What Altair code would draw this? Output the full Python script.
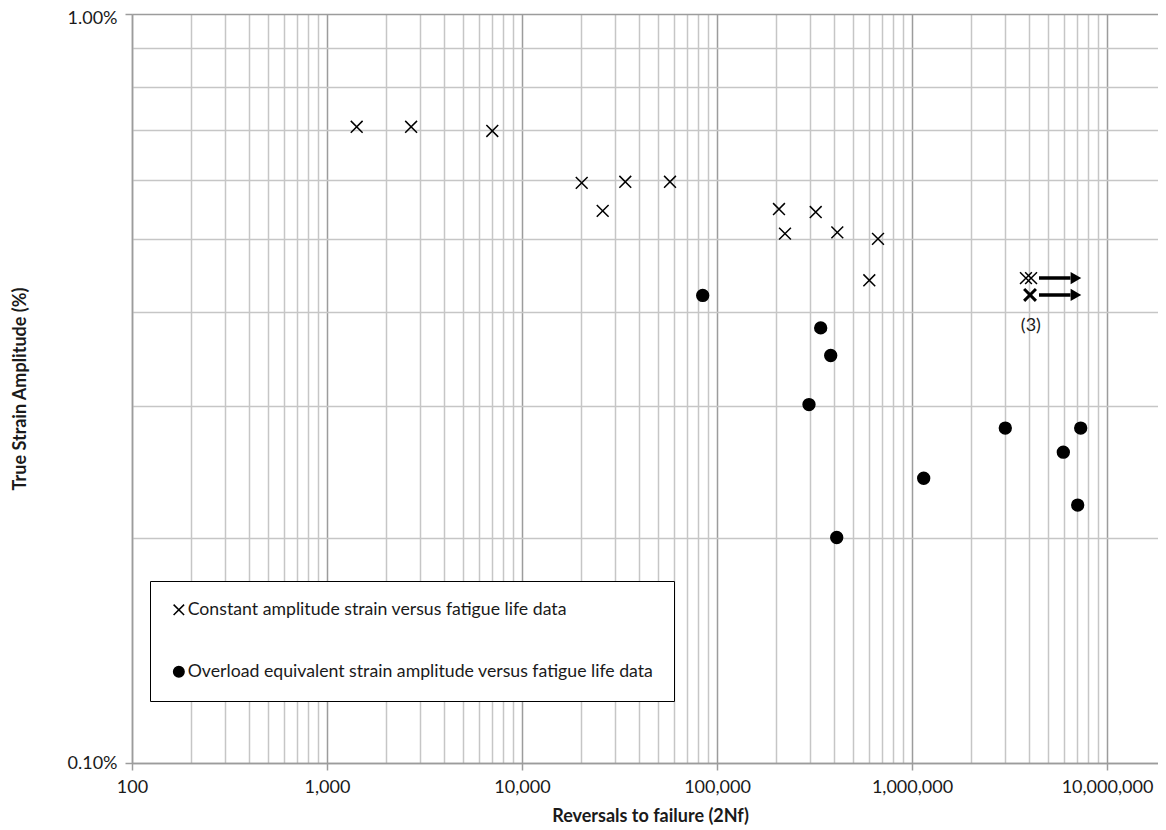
import altair as alt
import pandas as pd

# ---------------- data ----------------
SERIES_CA = "Constant amplitude strain versus fatigue life data"
SERIES_OL = "Overload equivalent strain amplitude versus fatigue life data"

# constant amplitude strain versus fatigue life (crosses)
ca_reversals = [1420, 2700, 7040, 20240, 25930, 33860, 57410,
                207900, 223200, 320800, 414000, 669300, 604000]
ca_strain = [0.707, 0.707, 0.698, 0.595, 0.546, 0.597, 0.597,
             0.549, 0.509, 0.544, 0.511, 0.501, 0.441]

# overload equivalent strain amplitude versus fatigue life (dots)
ol_reversals = [84470, 340200, 382900, 296300, 411100,
                1148000, 3009000, 7330000, 5970000, 7075000]
ol_strain = [0.421, 0.381, 0.350, 0.301, 0.200,
             0.240, 0.280, 0.280, 0.260, 0.221]

# run-out specimens (did not fail) with arrows
runout_reversals = [3840000, 4080000, 4030000]
runout_strain = [0.444, 0.444, 0.4216]
runout_weight = ["normal", "normal", "bold"]

arrow_start = [4480000, 4480000]
arrow_end = [6500000, 6500000]
arrow_tip = [6930000, 6930000]
arrow_strain = [0.444, 0.4216]

note_text = ["(3)"]
note_reversals = [4070000]
note_strain = [0.383]

# axis ticks / gridlines
x_decades = [100, 1000, 10000, 100000, 1000000, 10000000]
x_multipliers = [1, 2, 3, 4, 5, 6, 7, 8, 9]
y_grid = [0.1, 0.2, 0.3, 0.4, 0.5, 0.6, 0.7, 0.8, 0.9, 1.0]
y_major = [0.1, 1.0]

x_grid = sorted({d * m for d in x_decades[:-1] for m in x_multipliers} | {x_decades[-1]})

# ---------------- tables ----------------
points = pd.DataFrame({
    "reversals": ca_reversals + ol_reversals,
    "strain": ca_strain + ol_strain,
    "series": [SERIES_CA] * len(ca_reversals) + [SERIES_OL] * len(ol_reversals),
})
runouts = pd.DataFrame({"reversals": runout_reversals, "strain": runout_strain,
                        "weight": runout_weight})
arrows = pd.DataFrame({"reversals": arrow_start, "end": arrow_end,
                       "tip": arrow_tip, "strain": arrow_strain})
notes = pd.DataFrame({"reversals": note_reversals, "strain": note_strain, "text": note_text})

CROSS = "M-1,-1L1,1M-1,1L1,-1"
FONT = "Lato"
TXT = "#1a1a1a"
MINOR = "#c6c6c6"
MAJOR = "#9c9c9c"

decade_list = "[" + ",".join(str(v) for v in x_decades) + "]"
is_decade = f"indexof({decade_list}, datum.value) >= 0"
y_major_test = " || ".join(f"datum.value == {v}" for v in y_major)

PLOT_W = 1026
PLOT_H = 749
X_MAX = 100 * 10 ** (PLOT_W / 195.0)

x_axis = alt.Axis(
    values=x_grid,
    labelExpr=f"{is_decade} ? format(datum.value, ',') : ''",
    grid=True,
    gridColor={"condition": {"test": is_decade, "value": MAJOR}, "value": MINOR},
    gridWidth=1.5,
    tickColor={"condition": {"test": is_decade, "value": MAJOR}, "value": "transparent"},
    tickSize=7, tickWidth=1.5,
    domainColor=MAJOR, domainWidth=1.5,
    labelPadding=8, labelFlush=False, labelOverlap=False,
    title="Reversals to failure (2Nf)",
    titleX=518, titleY=58, titleBaseline="alphabetic", titleAlign="center",
)
y_axis = alt.Axis(
    values=y_grid,
    labelExpr=f"({y_major_test}) ? format(datum.value, '.2f') + '%' : ''",
    labelOffset={"condition": {"test": "datum.value == 1", "value": 4}, "value": 0},
    grid=True,
    gridColor={"condition": {"test": y_major_test, "value": MAJOR}, "value": MINOR},
    gridWidth=1.5,
    tickColor={"condition": {"test": y_major_test, "value": MAJOR}, "value": "transparent"},
    tickSize=7, tickWidth=1.5,
    domainColor=MAJOR, domainWidth=1.5,
    labelPadding=8, labelFlush=False, labelOverlap=False,
    title="True Strain Amplitude (%)",
    titleX=-112, titleY=PLOT_H / 2, titleAngle=270, titleBaseline="middle",
    titleAlign="center",
)

x_scale = alt.Scale(type="log", domain=[100, X_MAX], nice=False)
y_scale = alt.Scale(type="log", domain=[0.1, 1.0], nice=False)

X = alt.X("reversals:Q", scale=x_scale, axis=x_axis, title="Reversals to failure (2Nf)")
Y = alt.Y("strain:Q", scale=y_scale, axis=y_axis, title="True Strain Amplitude (%)")

legend = alt.Legend(
    title=None, orient="none", legendX=18, legendY=567, direction="vertical",
    fillColor="white", strokeColor="black", padding=20, rowPadding=43,
    labelFont=FONT, labelFontSize=17.7, labelColor=TXT, labelLimit=0, labelOffset=0,
    symbolSize=110, symbolStrokeWidth=1.5, symbolStrokeColor="black",
)
series_domain = [SERIES_CA, SERIES_OL]

pts = alt.Chart(points).mark_point(opacity=1, strokeWidth=1.5, size=140).encode(
    x=X, y=Y,
    shape=alt.Shape("series:N", scale=alt.Scale(domain=series_domain,
                                                 range=[CROSS, "circle"]), legend=legend),
    fill=alt.Fill("series:N", scale=alt.Scale(domain=series_domain,
                                               range=["transparent", "black"]), legend=legend),
    stroke=alt.Stroke("series:N", scale=alt.Scale(domain=series_domain,
                                                   range=["black", "black"]), legend=legend),
)

run = alt.Chart(runouts).mark_point(shape=CROSS, opacity=1, size=140, filled=False).encode(
    x=X, y=Y,
    stroke=alt.value("black"),
    strokeWidth=alt.StrokeWidth("weight:N", scale=alt.Scale(domain=["normal", "bold"],
                                                            range=[1.5, 3]), legend=None),
)

shafts = alt.Chart(arrows).mark_rule(strokeWidth=3.5, color="black").encode(
    x=X, x2=alt.X2("end:Q"), y=Y,
)
heads = alt.Chart(arrows).mark_point(shape="triangle-right", filled=True, opacity=1,
                                     size=150, color="black").encode(
    x=alt.X("tip:Q", scale=x_scale, axis=x_axis, title="Reversals to failure (2Nf)"), y=Y,
)
note = alt.Chart(notes).mark_text(font=FONT, fontSize=18, color=TXT,
                                  align="center", baseline="middle").encode(
    x=X, y=Y, text="text:N",
)

chart = alt.layer(pts, run, shafts, heads, note).properties(
    width=PLOT_W, height=PLOT_H,
    padding={"left": 124, "top": 6, "right": 0, "bottom": 62},
    autosize=alt.AutoSizeParams(type="none"),
).configure_view(stroke=None).configure_axis(
    labelFont=FONT, labelFontSize=18, labelColor=TXT,
    titleFont=FONT, titleFontSize=18, titleFontWeight="bold", titleColor=TXT,
)

chart.save("out.html", embed_options={"renderer": "svg", "actions": False})
